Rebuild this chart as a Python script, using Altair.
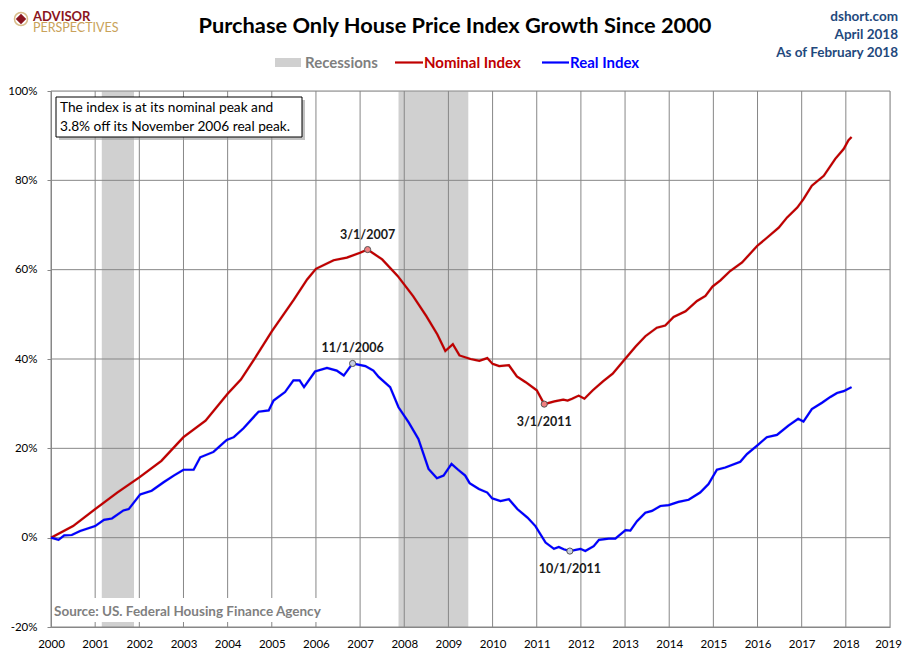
import altair as alt
import pandas as pd

# ---------------- data ----------------
nom_t = [2000.0, 2000.5, 2001.0, 2001.5, 2002.0, 2002.5, 2003.0, 2003.5, 2004.0, 2004.3,
         2004.6, 2005.0, 2005.5, 2005.8, 2006.0, 2006.4, 2006.7, 2007.0, 2007.17, 2007.5,
         2007.85, 2008.2, 2008.5, 2008.75, 2008.93, 2009.1, 2009.25, 2009.5, 2009.7, 2009.88,
         2010.0, 2010.15, 2010.37, 2010.55, 2010.75, 2011.0, 2011.17, 2011.4, 2011.6, 2011.7,
         2011.8, 2011.95, 2012.08, 2012.27, 2012.5, 2012.72, 2013.0, 2013.24, 2013.46, 2013.72,
         2013.91, 2014.1, 2014.37, 2014.63, 2014.82, 2014.98, 2015.16, 2015.38, 2015.65, 2015.99,
         2016.22, 2016.48, 2016.67, 2016.9, 2017.04, 2017.23, 2017.5, 2017.76, 2017.95, 2018.06,
         2018.13]
nom_v = [0.0, 2.6, 6.4, 10.1, 13.5, 17.2, 22.5, 26.2, 32.2, 35.4,
         39.9, 46.2, 53.3, 57.8, 60.2, 62.1, 62.7, 63.8, 64.5, 62.3,
         58.6, 54.1, 49.6, 45.5, 41.8, 43.3, 40.8, 40.0, 39.6, 40.2,
         38.9, 38.4, 38.6, 36.1, 34.8, 33.0, 29.9, 30.5, 30.9, 30.7,
         31.1, 31.8, 31.1, 33.0, 35.0, 36.7, 40.0, 42.8, 45.1, 47.0,
         47.5, 49.4, 50.7, 53.0, 54.1, 56.2, 57.6, 59.7, 61.6, 65.3,
         67.2, 69.4, 71.7, 73.9, 75.8, 78.8, 81.0, 84.8, 87.0, 89.0,
         89.7]

real_t = [2000.0, 2000.17, 2000.3, 2000.47, 2000.66, 2001.0, 2001.2, 2001.38, 2001.64, 2001.76,
          2002.02, 2002.28, 2002.55, 2002.78, 2003.0, 2003.23, 2003.38, 2003.68, 2003.98, 2004.14,
          2004.36, 2004.7, 2004.93, 2005.04, 2005.3, 2005.49, 2005.63, 2005.73, 2005.98, 2006.25,
          2006.47, 2006.63, 2006.83, 2007.12, 2007.3, 2007.42, 2007.68, 2007.87, 2008.1, 2008.32,
          2008.55, 2008.74, 2008.89, 2009.07, 2009.22, 2009.38, 2009.48, 2009.69, 2009.88, 2009.99,
          2010.18, 2010.37, 2010.56, 2010.79, 2010.97, 2011.2, 2011.39, 2011.5, 2011.61, 2011.75,
          2011.99, 2012.1, 2012.29, 2012.41, 2012.63, 2012.78, 2013.01, 2013.12, 2013.27, 2013.46,
          2013.61, 2013.8, 2013.99, 2014.21, 2014.44, 2014.7, 2014.89, 2015.08, 2015.27, 2015.61,
          2015.76, 2015.99, 2016.21, 2016.44, 2016.7, 2016.92, 2017.04, 2017.23, 2017.46, 2017.65,
          2017.8, 2017.95, 2018.13]
real_v = [0.0, -0.5, 0.5, 0.6, 1.5, 2.6, 4.0, 4.3, 6.1, 6.4,
          9.7, 10.5, 12.4, 13.9, 15.2, 15.2, 18.0, 19.2, 21.9, 22.5,
          24.5, 28.2, 28.5, 30.7, 32.6, 35.2, 35.2, 33.7, 37.2, 38.0,
          37.4, 36.3, 39.0, 38.4, 37.4, 36.0, 33.7, 29.2, 25.8, 22.1,
          15.4, 13.3, 13.9, 16.5, 15.2, 13.9, 12.2, 10.9, 10.1, 8.8,
          8.2, 8.6, 6.4, 4.5, 2.6, -1.1, -2.5, -2.1, -2.6, -3.0,
          -2.5, -3.0, -1.9, -0.5, -0.2, -0.2, 1.7, 1.6, 3.7, 5.6,
          6.0, 7.1, 7.3, 8.0, 8.5, 10.1, 12.0, 15.2, 15.7, 17.0,
          18.7, 20.6, 22.5, 23.0, 25.1, 26.6, 26.0, 28.8, 30.2, 31.5,
          32.4, 32.8, 33.7]

rec_start = [2001.15, 2007.87]
rec_end = [2001.88, 2009.45]

mark_t = [2007.17, 2006.83, 2011.17, 2011.75]
mark_v = [64.5, 39.0, 29.9, -3.0]
mark_lab = ["3/1/2007", "11/1/2006", "3/1/2011", "10/1/2011"]
mark_fill = ["#f08080", "#c8cfe0", "#f08080", "#c8cfe0"]
mark_pos = ["above", "above", "below", "below"]

year_ticks = list(range(2000, 2020))
pct_ticks = [-20, 0, 20, 40, 60, 80, 100]

W, H = 839, 536
FONT = "Lato"
GRID = "#878787"

xs = alt.Scale(domain=[2000, 2019], nice=False, zero=False)
ys = alt.Scale(domain=[-20, 100], nice=False, zero=False)

X_AX = alt.Axis(values=year_ticks, labelExpr="datum.value", grid=False, ticks=False,
                domain=True, domainColor=GRID, labelFont=FONT, labelFontSize=11.5,
                labelColor="#000000", labelPadding=11, title=None, labelFlush=False,
                labelOffset=alt.ExprRef(expr="datum.value == 2019 ? -2 : 0"))
Y_AX = alt.Axis(values=pct_ticks, labelExpr="datum.value + '%'", grid=False, ticks=True,
                tickSize=4, tickColor=GRID, domain=True, domainColor=GRID, labelFont=FONT,
                labelFontSize=11.5, labelColor="#000000", labelPadding=10, title=None,
                labelFlush=False)

lines_df = pd.concat([
    pd.DataFrame({"t": nom_t, "v": nom_v, "s": "Nominal Index"}),
    pd.DataFrame({"t": real_t, "v": real_v, "s": "Real Index"}),
])
rec_df = pd.DataFrame({"t": rec_start, "t2": rec_end})
mk_df = pd.DataFrame({"t": mark_t, "v": mark_v, "lab": mark_lab, "fill": mark_fill,
                      "pos": mark_pos})
xg_df = pd.DataFrame({"t": year_ticks})
yg_df = pd.DataFrame({"v": pct_ticks})
one = pd.DataFrame({"k": [0]})

X = alt.X("t:Q", scale=xs, axis=X_AX)
Y = alt.Y("v:Q", scale=ys, axis=Y_AX)

rec = alt.Chart(rec_df).mark_rect(color="#d0d0d0").encode(
    x=X, x2="t2:Q", y=alt.value(0), y2=alt.value(H))

xgrid = alt.Chart(xg_df).mark_rule(color=GRID, strokeWidth=1).encode(
    x=X, y=alt.value(0), y2=alt.value(H))
ygrid = alt.Chart(yg_df).mark_rule(color=GRID, strokeWidth=1).encode(
    y=Y, x=alt.value(0), x2=alt.value(W))


def txt(s, x, y, size, color, weight="bold", align="left"):
    return alt.Chart(one).mark_text(text=s, align=align, baseline="middle", font=FONT,
                                    fontSize=size, fontWeight=weight, color=color).encode(
        x=alt.value(x), y=alt.value(y))


def box(x1, x2, y1, y2, **kw):
    return alt.Chart(one).mark_rect(**kw).encode(
        x=alt.value(x1), x2=alt.value(x2), y=alt.value(y1), y2=alt.value(y2))


src_box = box(1, 277, 507, 531, color="white")
src_txt = txt("Source: US. Federal Housing Finance Agency", 3, 521, 13.5, "#7f7f7f")

shadow = alt.Chart(lines_df).mark_line(strokeWidth=3, opacity=0.16, color="#555555").encode(
    x=X, y=Y, detail="s:N")
lines = alt.Chart(lines_df).mark_line(strokeWidth=2.2).encode(
    x=X, y=Y,
    color=alt.Color("s:N", scale=alt.Scale(domain=["Nominal Index", "Real Index"],
                                           range=["#c00000", "#0000ff"]), legend=None))

pts = alt.Chart(mk_df).mark_point(filled=True, size=38, stroke="#555555", strokeWidth=1,
                                  opacity=1).encode(
    x=X, y=Y, fill=alt.Fill("fill:N", scale=None))
labs_up = alt.Chart(mk_df).transform_filter("datum.pos == 'above'").mark_text(
    dy=-15, font=FONT, fontSize=12.5, fontWeight="bold", color="#1a1a1a").encode(
    x=X, y=Y, text="lab:N")
labs_dn = alt.Chart(mk_df).transform_filter("datum.pos == 'below'").mark_text(
    dy=18, font=FONT, fontSize=12.5, fontWeight="bold", color="#1a1a1a").encode(
    x=X, y=Y, text="lab:N")

# annotation box
box_sh = box(8, 254, 9, 49, color="#9a9a9a", opacity=0.6)
box_main = box(5, 251, 6, 46, fill="white", stroke="#000000", strokeWidth=1)
box_t1 = txt("The index is at its nominal peak and", 9, 17, 13.7, "#000000", weight="normal")
box_t2 = txt("3.8% off its November 2006 real peak.", 9, 36, 13.7, "#000000", weight="normal")

title = txt("Purchase Only House Price Index Growth Since 2000", 404, -65, 21.8, "#000000",
            align="center")
r1 = txt("dshort.com", 847, -74, 13.5, "#1f497d", align="right")
r2 = txt("April 2018", 847, -56, 13.5, "#1f497d", align="right")
r3 = txt("As of February 2018", 847, -38, 13.5, "#1f497d", align="right")

leg_rec = box(224, 250, -33, -24, color="#d0d0d0")
leg_rec_t = txt("Recessions", 254, -28.5, 15, "#7f7f7f")
leg_nom = alt.Chart(one).mark_rule(color="#c00000", strokeWidth=2.2).encode(
    x=alt.value(344), x2=alt.value(372), y=alt.value(-28.5))
leg_nom_t = txt("Nominal Index", 373, -28.5, 15, "#c00000")
leg_real = alt.Chart(one).mark_rule(color="#0000ff", strokeWidth=2.2).encode(
    x=alt.value(491), x2=alt.value(518), y=alt.value(-28.5))
leg_real_t = txt("Real Index", 519, -28.5, 15, "#0000ff")

# logo
logo_c = alt.Chart(one).mark_point(shape="circle", filled=False, size=170, stroke="#c9a25a",
                                   strokeWidth=1.5).encode(x=alt.value(-30), y=alt.value(-72))
logo_s = alt.Chart(one).mark_point(shape="diamond", filled=True, size=110, color="#8b1520",
                                   opacity=1).encode(x=alt.value(-30), y=alt.value(-72))
logo1 = txt("ADVISOR", -18, -74.5, 13, "#8b1520")
logo2 = txt("PERSPECTIVES", -18, -63.5, 12.5, "#c9a25a", weight="normal")

chart = alt.layer(
    rec, xgrid, ygrid, src_box, src_txt, shadow, lines, pts, labs_up, labs_dn,
    box_sh, box_main, box_t1, box_t2, title, r1, r2, r3,
    leg_rec, leg_rec_t, leg_nom, leg_nom_t, leg_real, leg_real_t,
    logo_c, logo_s, logo1, logo2,
).properties(
    width=W, height=H,
    autosize=alt.AutoSizeParams(type="none"),
    padding={"left": 43, "top": 83, "right": 12, "bottom": 26},
).configure_view(stroke=None).configure(background="white")

chart.save("out.html", embed_options={"renderer": "svg", "actions": False})
